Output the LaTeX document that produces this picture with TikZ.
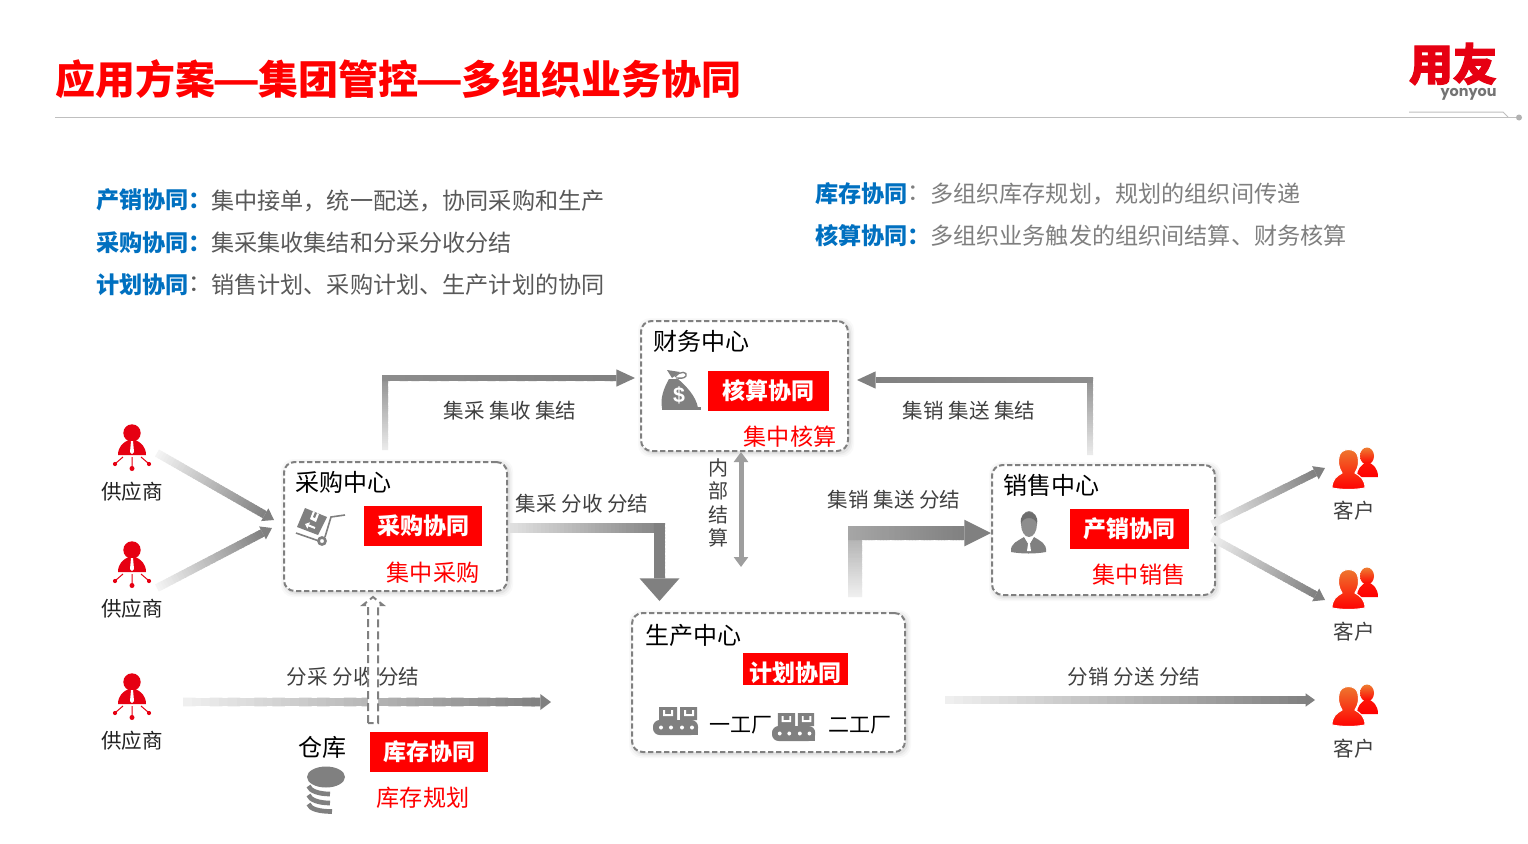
\documentclass[tikz,border=0pt]{standalone}
\usepackage{fontspec}
\usepackage{graphicx}
\usetikzlibrary{calc,arrows.meta}
\setmainfont{Noto Sans CJK SC}
\newfontfamily\logofont{Noto Sans CJK SC}[BoldFeatures={FakeBold=2.5}]
\newfontfamily\latinfont{Poppins}
\newfontfamily\dollarfont{Liberation Sans}
\definecolor{agray}{HTML}{808080}
\definecolor{bluehead}{HTML}{0070C0}
\definecolor{bodygray}{HTML}{595959}
\definecolor{bodylight}{HTML}{7F7F7F}
\definecolor{labelgray}{HTML}{404040}
\definecolor{pred}{HTML}{E60012}
\definecolor{cuorange}{HTML}{ED7D31}
\tikzset{
  fpx23/.style={font=\fontsize{17.35pt}{20pt}\selectfont},
  fpx24/.style={font=\fontsize{18pt}{21pt}\selectfont},
  fpx20/.style={font=\fontsize{15.4pt}{18pt}\selectfont},
  lefthead/.style={anchor=west,inner sep=0,text=bluehead,font=\fontsize{17.35pt}{20pt}\selectfont\bfseries},
  bodytext/.style={anchor=west,inner sep=0,text=bodygray,fpx23},
  bodytextb/.style={anchor=west,inner sep=0,text=bodylight,fpx23},
  flowlabel/.style={inner sep=0,text=labelgray,fpx20},
  titletext/.style={anchor=west,inner sep=0,text=black,fpx24},
  redtext/.style={inner sep=0,text=red,fpx23},
  redbox/.style={fill=red,text=white,inner sep=0,font=\fontsize{17.25pt}{20pt}\selectfont\bfseries},
  cbox/.style={draw=agray,fill=white,line width=1.5pt,dash pattern=on 4pt off 2pt,rounded corners=8pt,inner sep=0},
  factlabel/.style={anchor=west,inner sep=0,text=black,font=\fontsize{15.75pt}{18pt}\selectfont},
}
\newcommand\tdash{\hbox to 32.25pt{\hss\scalebox{1.32}[1]{—}\hss}}
% gradient line from #1 to #2, width #3, colours #4 -> #5
\newcommand\gline[5]{\colorlet{gca}{#4}\colorlet{gcb}{#5}\foreach \i in {0,...,39}{%
  \pgfmathsetmacro\ta{\i/40}\pgfmathsetmacro\tb{min(1,(\i+1.4)/40)}\pgfmathtruncatemacro\pc{(\i+.5)*2.5}%
  \draw[line width=#3,color=gcb!\pc!gca] ($(#1)!\ta!(#2)$) -- ($(#1)!\tb!(#2)$);}}
% gradient arrow: a b width colA colB headlen headhalfwidth
\newcommand\garrow[7]{%
  \coordinate (hb) at ($(#2)!#6!(#1)$);
  \gline{#1}{hb}{#3}{#4}{#5}
  \fill[#5] (#2) -- ($(hb)!#7!90:(#2)$) -- ($(hb)!#7!-90:(#2)$) -- cycle;}
\newcommand\supplier[2]{\begin{scope}[shift={(#1,#2)}]
  \fill[pred] (0,0) circle (8.7);
  \fill[pred] (-14,22) .. controls (-14,14) and (-9,9) .. (-3,7) -- (3,7) .. controls (9,9) and (14,14) .. (14,22) -- cycle;
  \fill[white] (-1,8) -- (1,8) -- (2,19) -- (0,21) -- (-2,19) -- cycle;
  \draw[pred,line width=.75pt] (0,24) -- (0,35) (-9,24) -- (-16,30) (9,24) -- (16,30);
  \fill[pred] (0,35.5) circle (2.5) (-17,31) circle (2.1) (17,31) circle (2.1);
\end{scope}}
\newcommand\customer[2]{\begin{scope}[shift={(#1,#2)}]
  \shade[top color=cuorange,bottom color=red] (35,7) ellipse (7 and 8.5);
  \shade[top color=red!85!cuorange,bottom color=red] (25,28) .. controls (25,19) and (30,16) .. (33,14) -- (38,14) .. controls (41,16) and (46,19) .. (46,28) -- cycle;
  \shadedraw[draw=white,line width=.8pt,top color=cuorange,bottom color=red] (0,39) .. controls (0,30) and (5,27) .. (10,24) .. controls (6,18) and (6,12) .. (7,8) .. controls (8,-2) and (25,-2) .. (26,8) .. controls (27,12) and (27,18) .. (23,24) .. controls (28,27) and (33,30) .. (33,39) .. controls (22,41) and (11,41) .. (0,39) -- cycle;
\end{scope}}
\newcommand\factory[3]{\begin{scope}[shift={(#1,#2)},xscale=#3]
  \fill[agray] (6,0) rectangle (24,13) (27,0) rectangle (44,13);
  \fill[white] (10,3) -- (12,3) -- (12,7) -- (18,7) -- (18,3) -- (20,3) -- (20,9) -- (10,9) -- cycle;
  \fill[white] (31,3) -- (33,3) -- (33,7) -- (39,7) -- (39,3) -- (41,3) -- (41,9) -- (31,9) -- cycle;
  \fill[agray,rounded corners=5pt] (0,28) -- (0,13) -- (45,13) -- (45,28) -- cycle;
  \fill[agray] (20,20) rectangle (45,28);
  \fill[white] (8,20.5) circle (2) (18,20.5) circle (2) (29,20.5) circle (2) (39,20.5) circle (2);
\end{scope}}
\begin{document}
\begin{tikzpicture}[x=.75pt,y=-.75pt]
\useasboundingbox (0,0) rectangle (1528,843);
\fill[white] (0,0) rectangle (1528,843);
% header
\node[anchor=west,inner sep=0,text=red,font=\fontsize{30pt}{34pt}\selectfont\bfseries] (title) at (55,79.5) {应用方案\tdash 集团管控\tdash 多组织业务协同};
\draw[color=black!25,line width=.75pt] (55,117) -- (1518,117);
\draw[color=black!25,line width=.75pt] (1409,112) -- (1503,112) -- (1508,117);
\fill[black!30] (1519,117.5) circle (3);
\node[inner sep=0,text=pred,font=\fontsize{33pt}{36pt}\selectfont\logofont\bfseries] (logo) at (1453,64) {用友};
\node[inner sep=0,text=black!55,font=\fontsize{10.8pt}{13pt}\selectfont\latinfont\bfseries] (logotxt) at (1468.5,94.5) {yonyou};
% intro text
\node[lefthead] (h1) at (96,200) {产销协同：};
\node[bodytext] (t1) at (211,200.5) {集中接单，统一配送，协同采购和生产};
\node[lefthead] (h2) at (96,242.5) {采购协同：};
\node[bodytext] (t2) at (211,242.5) {集采集收集结和分采分收分结};
\node[lefthead] (h3) at (96,284.5) {计划协同};
\node[bodytext] (c3) at (188,284.5) {：};
\node[bodytext] (t3) at (211,284.5) {销售计划、采购计划、生产计划的协同};
\node[lefthead] (h4) at (815,193.5) {库存协同};
\node[bodytextb] (c4) at (907,193.5) {：};
\node[bodytextb] (t4) at (930,193.5) {多组织库存规划，规划的组织间传递};
\node[lefthead] (h5) at (815,235.5) {核算协同：};
\node[bodytextb] (t5) at (930,235.5) {多组织业务触发的组织间结算、财务核算};
% shadows
\foreach \s/\o in {4.5/.025,3/.035,1.5/.05}{
  \fill[black,opacity=\o,rounded corners=9pt] (641-\s+1.5,321-\s+1.5) rectangle (848+\s+1.5,451+\s+1.5);
  \fill[black,opacity=\o,rounded corners=9pt] (284-\s+1.5,462-\s+1.5) rectangle (507+\s+1.5,591+\s+1.5);
  \fill[black,opacity=\o,rounded corners=9pt] (992-\s+1.5,465-\s+1.5) rectangle (1215+\s+1.5,595+\s+1.5);
  \fill[black,opacity=\o,rounded corners=9pt] (632-\s+1.5,613-\s+1.5) rectangle (905+\s+1.5,752+\s+1.5);
}
% centre boxes
\node[cbox,minimum width=155.25pt,minimum height=97.5pt] (fin) at (744.5,386) {};
\node[cbox,minimum width=167.25pt,minimum height=96.75pt] (pur) at (395.5,526.5) {};
\node[cbox,minimum width=167.25pt,minimum height=97.5pt] (sal) at (1103.5,530) {};
\node[cbox,minimum width=204.75pt,minimum height=104.25pt] (pro) at (768.5,682.5) {};
\node[titletext] (fint) at (653,341) {财务中心};
\node[titletext] (purt) at (295.5,482) {采购中心};
\node[titletext] (salt) at (1003.5,485) {销售中心};
\node[titletext] (prot) at (645,635) {生产中心};
\node[redbox,minimum width=90.75pt,minimum height=30pt] (finr) at (768.5,391) {核算协同};
\node[redbox,minimum width=88.5pt,minimum height=30pt] (purr) at (423,526) {采购协同};
\node[redbox,minimum width=89.25pt,minimum height=30pt] (salr) at (1129.5,529) {产销协同};
\node[redbox,minimum width=78.75pt,minimum height=24pt] (pror) at (795.5,669) {};
\node[inner sep=0,text=white,font=\fontsize{17.25pt}{20pt}\selectfont\bfseries] (prort) at (795,673) {计划协同};
\node[redbox,minimum width=88.5pt,minimum height=30pt] (wahr) at (429,752) {库存协同};
\node[redtext] (fins) at (790,436.5) {集中核算};
\node[redtext] (purs) at (433,572.5) {集中采购};
\node[redtext] (sals) at (1139,574.5) {集中销售};
\node[redtext] (wahs) at (423,797.5) {库存规划};
\node[inner sep=0,text=black,fpx24] (waht) at (322,747) {仓库};
\node[factlabel] (f1) at (709,725) {一工厂};
\node[factlabel] (f2) at (828,725) {二工厂};
% actors
\supplier{132}{433}\supplier{132}{550}\supplier{132}{682}
\node[inner sep=0,text=labelgray!50!black,fpx20] (s1) at (132,491.5) {供应商};
\node[inner sep=0,text=labelgray!50!black,fpx20] (s2) at (132,608.5) {供应商};
\node[inner sep=0,text=labelgray!50!black,fpx20] (s3) at (132,740.5) {供应商};
\customer{1332}{449}\customer{1332}{569}\customer{1332}{686}
\node[inner sep=0,text=labelgray,fpx20] (c1) at (1354,511) {客户};
\node[inner sep=0,text=labelgray,fpx20] (c2) at (1354,632) {客户};
\node[inner sep=0,text=labelgray,fpx20] (c3b) at (1354,749) {客户};
% flow labels
\node[flowlabel] (l1) at (510,410.5) {集采 集收 集结};
\node[flowlabel] (l2) at (969,410.5) {集销 集送 集结};
\node[flowlabel] (l3) at (582,503.5) {集采 分收 分结};
\node[flowlabel] (l4) at (894,499.5) {集销 集送 分结};
\node[flowlabel] (l5) at (353,676.5) {分采 分收 分结};
\node[flowlabel] (l6) at (1134,676.5) {分销 分送 分结};
\node[flowlabel,align=center,font=\fontsize{15pt}{17.6pt}\selectfont] (l7) at (718,503) {内\\部\\结\\算};
% connectors
\coordinate (s1o) at (157,453); \coordinate (s1i) at ($(pur.west)+(-9,-6.5)$);
\coordinate (s2o) at (157,588); \coordinate (s2i) at ($(pur.west)+(-11,1.5)$);
\garrow{s1o}{s1i}{6pt}{black!4}{agray}{8pt}{5.5pt}
\garrow{s2o}{s2i}{6pt}{black!4}{agray}{8pt}{5.5pt}
\coordinate (s3o) at (183,702); \coordinate (s3i) at (551,702);
\garrow{s3o}{s3i}{6.5pt}{black!6}{agray}{8pt}{6pt}
% purchase to finance
\coordinate (a1) at (385,450); \coordinate (a2) at (385,375); \coordinate (a3) at (382,378); \coordinate (a4) at ($(fin.west)+(-5,-8)$);
\gline{a1}{a2}{4.5pt}{black!8}{agray!90}
\garrow{a3}{a4}{4.5pt}{agray!90}{agray}{14pt}{6.5pt}
% sales to finance
\coordinate (b1) at (1090,455); \coordinate (b2) at (1090,377); \coordinate (b3) at (1093,380); \coordinate (b4) at ($(fin.east)+(8,-6)$);
\gline{b1}{b2}{4.5pt}{black!8}{agray!90}
\garrow{b3}{b4}{4.5pt}{agray!90}{agray}{14pt}{6.5pt}
% purchase to production
\coordinate (e1) at (510,528); \coordinate (e2) at (665,528); \coordinate (e3) at (659.5,523); \coordinate (e4) at ($(pro.north)+(-109,-11)$);
\gline{e1}{e2}{7.5pt}{black!12}{agray}
\garrow{e3}{e4}{8.25pt}{agray}{agray}{17pt}{15pt}
% production to sales
\coordinate (g1) at (855,597); \coordinate (g2) at (855,526); \coordinate (g3) at (848,533); \coordinate (g4) at ($(sal.west)+(0,3)$);
\gline{g1}{g2}{10.5pt}{black!6}{agray!70}
\garrow{g3}{g4}{10.5pt}{agray!70}{agray}{20pt}{10pt}
% internal settlement
\coordinate (d1) at (741,452); \coordinate (d2) at (741,567);
\draw[line width=3.75pt,color=black!38,{Triangle[length=7.5pt,width=10.5pt]}-{Triangle[length=7.5pt,width=10.5pt]}] (d1) -- (d2);
% sales to customers
\coordinate (r0a) at (1212,524); \coordinate (r1) at (1325,468);
\coordinate (r0b) at (1212,538); \coordinate (r2) at (1325,600);
\garrow{r0a}{r1}{5.5pt}{black!6}{agray}{8pt}{5.5pt}
\garrow{r0b}{r2}{5.5pt}{black!6}{agray}{8pt}{5.5pt}
\coordinate (r3a) at (945,700); \coordinate (r3b) at (1315,700);
\garrow{r3a}{r3b}{5.5pt}{black!6}{agray}{7pt}{5pt}
% warehouse dashed block arrow
\draw[draw=agray,fill=white,line width=1.5pt,dash pattern=on 6pt off 3pt]
  (368,723) -- (368,605) -- (363,605) -- (373,597) -- (383,605) -- (378,605) -- (378,723) -- cycle;
% bag
\fill[agray] (667,370) -- (680,372) -- (672,378) -- cycle;
\draw[agray,line width=1pt] (675,377) .. controls (680,370) and (688,372) .. (686,376) .. controls (684,379) and (680,378) .. (676,378);
\fill[agray] (669,379) -- (678,379) .. controls (686,386) and (696,396) .. (698,408) -- (662,408) .. controls (660,398) and (664,388) .. (669,379) -- cycle;
\fill[agray] (662,407) rectangle (701,409.5);
\node[inner sep=0,text=white,font=\fontsize{16pt}{17pt}\selectfont\dollarfont\bfseries] (dollar) at (679,395) {\$};
% cart
\fill[agray] (305,508) -- (327,517) -- (318,535) -- (297,527) -- cycle;
\fill[white] (313,511) -- (319,514) -- (316,522) -- (310,519) -- cycle;
\fill[agray] (315,512) -- (317,513) -- (315,518) -- (313,517) -- cycle;
\draw[white,line width=1.5pt,-{Triangle[length=3pt,width=5pt]}] (315,528) -- (305,524);
\draw[agray,line width=1.2pt] (296,533) -- (319,541);
\draw[agray,line width=1.2pt] (325,537) -- (331,517) -- (345,515);
\draw[agray,line width=2pt,fill=white] (322,541) circle (3.5);
% man
\fill[agray] (1011,552) .. controls (1010,543) and (1018,541) .. (1024,537) -- (1029,545) -- (1034,537) .. controls (1040,541) and (1047,543) .. (1046,552) .. controls (1035,554) and (1022,554) .. (1011,552) -- cycle;
\fill[agray!90] (1029,524) ellipse (8 and 13);
\fill[agray!85!black] (1021,524) .. controls (1018,508) and (1040,508) .. (1037,524) .. controls (1035,516) and (1023,516) .. (1021,524) -- cycle;
\draw[white,line width=.8pt] (1025,537) -- (1029,544) -- (1033,537);
\fill[white] (1028,544) -- (1030,544) -- (1031,551) -- (1027,551) -- cycle;
% factories
\factory{653}{707}{1}
\factory{772}{713}{.96}
% database
\fill[agray] (326,777) ellipse (19 and 10.5);
\draw[agray,line width=3.5pt] (308.5,786) .. controls (310,791) and (319,794) .. (330,794);
\draw[agray,line width=3.5pt] (308.5,795) .. controls (310,800) and (319,803) .. (330,803);
\draw[agray,line width=3.5pt] (308.5,804) .. controls (310,809) and (319,811.5) .. (332,811.5);
\end{tikzpicture}
\end{document}
